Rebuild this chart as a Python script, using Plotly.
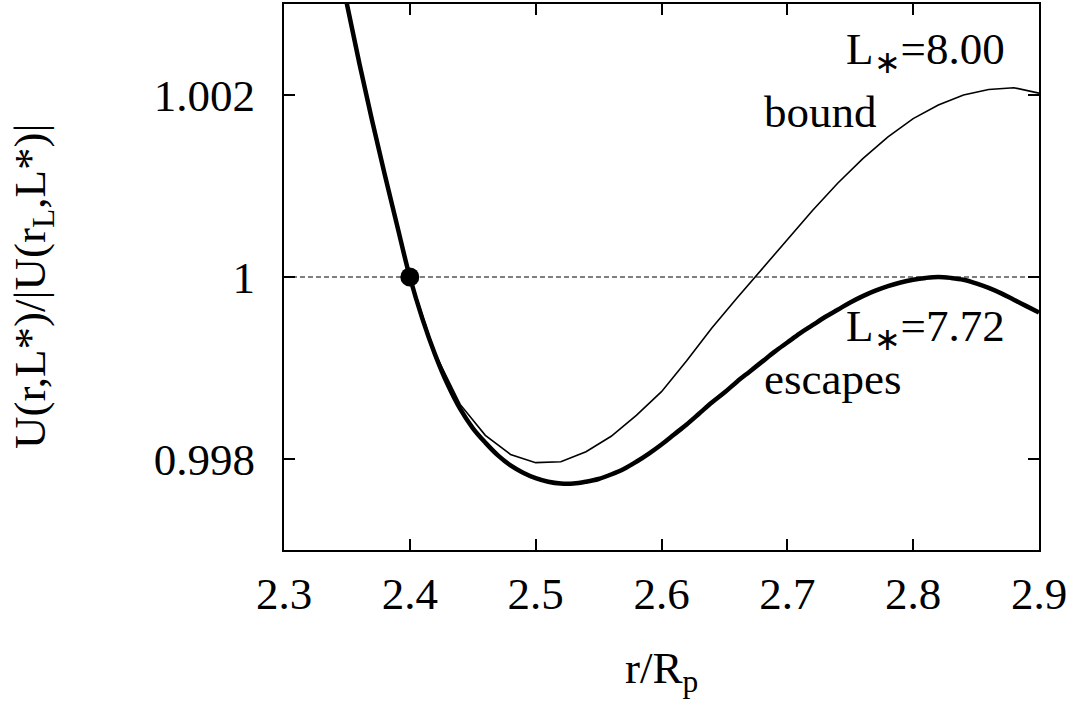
import plotly.graph_objects as go

# r/R_p sampling and normalised potential for the two angular momenta
r_escape = [2.34, 2.35, 2.36, 2.37, 2.38, 2.39, 2.40, 2.41, 2.42, 2.43, 2.44,
            2.45, 2.46, 2.47, 2.48, 2.49, 2.50, 2.51, 2.52, 2.53, 2.54, 2.55,
            2.56, 2.57, 2.58, 2.59, 2.60, 2.61, 2.62, 2.63, 2.64, 2.65, 2.66,
            2.67, 2.68, 2.69, 2.70, 2.71, 2.72, 2.73, 2.74, 2.75, 2.76, 2.77,
            2.78, 2.79, 2.80, 2.81, 2.82, 2.83, 2.84, 2.85, 2.86, 2.87, 2.88,
            2.89, 2.90]
u_escape = [1.00370, 1.00300, 1.00234, 1.00172, 1.00113, 1.00056, 1.00000,
            0.99954, 0.99915, 0.99882, 0.99855, 0.99834, 0.99818, 0.99804,
            0.99793, 0.99785, 0.99779, 0.99775, 0.99773, 0.99773, 0.99775,
            0.99778, 0.99783, 0.99789, 0.99797, 0.99806, 0.99816, 0.99827,
            0.99838, 0.99850, 0.99862, 0.99873, 0.99885, 0.99896, 0.99907,
            0.99918, 0.99928, 0.99938, 0.99947, 0.99956, 0.99964, 0.99972,
            0.99979, 0.99985, 0.99990, 0.99994, 0.99997, 0.99999, 1.00000,
            0.99999, 0.99997, 0.99993, 0.99988, 0.99982, 0.99975, 0.99968,
            0.99961]

r_bound = [2.34, 2.36, 2.38, 2.40, 2.42, 2.44, 2.46, 2.48, 2.50, 2.52, 2.54,
           2.56, 2.58, 2.60, 2.62, 2.64, 2.66, 2.68, 2.70, 2.72, 2.74, 2.76,
           2.78, 2.80, 2.82, 2.84, 2.86, 2.88, 2.90]
u_bound = [1.00370, 1.00234, 1.00113, 1.00000, 0.99916, 0.99860, 0.99826,
           0.99805, 0.99796, 0.99797, 0.99808, 0.99825, 0.99848, 0.99874,
           0.99908, 0.99944, 0.99977, 1.00009, 1.00041, 1.00073, 1.00103,
           1.00130, 1.00154, 1.00174, 1.00189, 1.00200, 1.00206, 1.00208,
           1.00202]

# launch point r_L and the reference level U = 1
r_launch = [2.40]
u_launch = [1.0]
ref_level = 1.0

x_ticks = [2.3, 2.4, 2.5, 2.6, 2.7, 2.8, 2.9]
x_labels = ["2.3", "2.4", "2.5", "2.6", "2.7", "2.8", "2.9"]
y_ticks = [0.998, 1.0, 1.002]
y_labels = ["0.998", "1", "1.002"]

FONT = "Liberation Serif"
FS = 45

fig = go.Figure()

fig.add_shape(type="line", xref="paper", yref="y", x0=0, x1=1,
              y0=ref_level, y1=ref_level,
              line=dict(color="black", width=1.2, dash="5px,3px"),
              layer="below")

fig.add_trace(go.Scatter(x=r_bound, y=u_bound, mode="lines",
                         line=dict(color="black", width=1.6),
                         showlegend=False))
fig.add_trace(go.Scatter(x=r_escape, y=u_escape, mode="lines",
                         line=dict(color="black", width=4.5, shape="spline"),
                         showlegend=False))
fig.add_trace(go.Scatter(x=r_launch, y=u_launch, mode="markers",
                         marker=dict(color="black", size=19),
                         showlegend=False))

def label(text, x, y, xanchor, angle=0):
    fig.add_annotation(text=text, xref="paper", yref="paper", x=x, y=y,
                       xanchor=xanchor, yanchor="middle", showarrow=False,
                       textangle=angle,
                       font=dict(family=FONT, size=FS, color="black"))

label("L<sub>∗</sub>=8.00", 0.957, 0.912, "right")
label("bound", 0.633, 0.803, "left")
label("L<sub>∗</sub>=7.72", 0.957, 0.405, "right")
label("escapes", 0.633, 0.314, "left")

# axis titles
label("r/R<sub>p</sub>", 0.5, -0.222, "center")
label("U(r,L*)/|U(r<sub>L</sub>,L*)|", -0.3325, 0.4836, "center", angle=-90)

for upd, ticks, labels, rng, standoff in (
        (fig.update_xaxes, x_ticks, x_labels, [2.3, 2.9], 3),
        (fig.update_yaxes, y_ticks, y_labels, [0.997, 1.003], 18)):
    upd(range=rng, tickvals=ticks, ticktext=labels,
        ticklabelstandoff=standoff,
        showgrid=False, zeroline=False, showline=True,
        linecolor="black", linewidth=2, mirror="ticks",
        ticks="inside", ticklen=11, tickwidth=1.5, tickcolor="black",
        tickfont=dict(family=FONT, size=FS, color="black"))

fig.update_layout(width=1081, height=705,
                  font=dict(family=FONT, size=FS, color="black"),
                  margin=dict(l=284, r=42, t=2, b=155),
                  plot_bgcolor="white", paper_bgcolor="white")

fig.write_html("out.html")
